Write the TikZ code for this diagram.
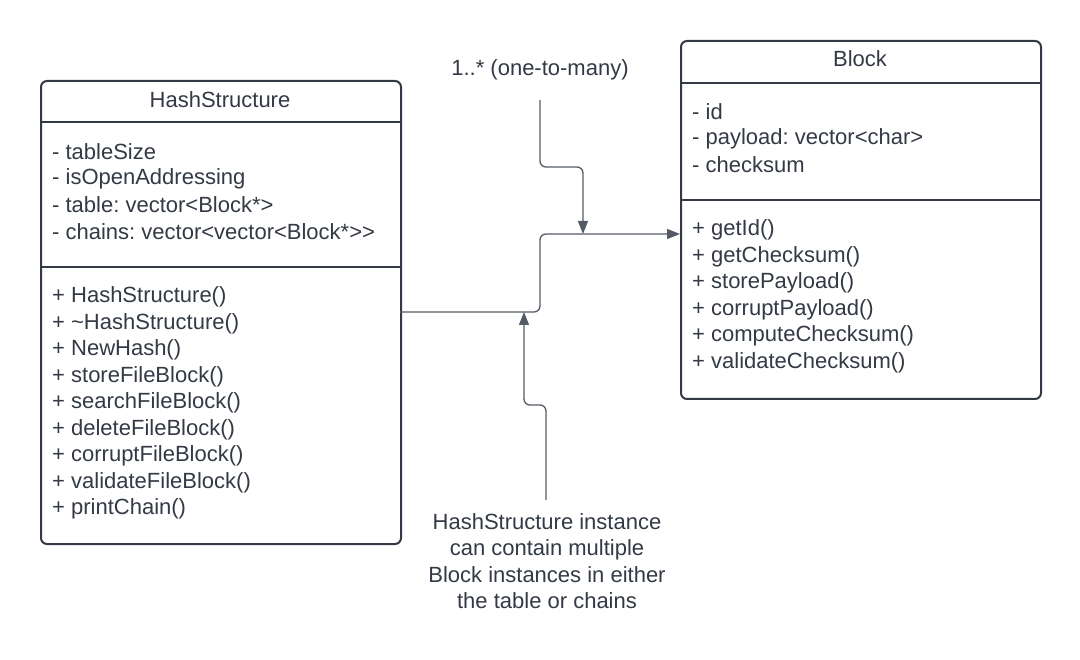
\documentclass[tikz,border=0pt]{standalone}
\usepackage{fontspec}
\setmainfont[Ligatures=NoCommon]{Liberation Sans}
\frenchspacing
\usetikzlibrary{arrows.meta}
\definecolor{ink}{HTML}{333A45}
\definecolor{wire}{HTML}{555B66}
\begin{document}
\begin{tikzpicture}[x=1pt,y=-1pt,
  classbox/.style={draw=ink,line width=2pt,rounded corners=6pt,anchor=north west,inner sep=0pt},
  divider/.style={draw=ink,line width=2pt},
  member/.style={anchor=west,inner sep=0pt,text=ink,font=\fontsize{22}{26}\selectfont},
  title/.style={inner sep=0pt,text=ink,font=\fontsize{22}{26}\selectfont},
  wireline/.style={draw=wire,line width=1.3pt,rounded corners=6pt},
  tip/.style={-{Triangle[length=13pt,width=10pt]}}
]
\useasboundingbox[fill=white] (0,0) rectangle (1080,660);

% HashStructure class
\node[classbox,minimum width=360pt,minimum height=463pt] (hs) at (40,80) {};
\draw[divider] (40,122) -- (400,122);
\draw[divider] (40,267) -- (400,267);
\node[title] (hst) at (220,100) {HashStructure};
\foreach \t [count=\i from 0] in {- tableSize,- isOpenAddressing,- table: vector<Block*>,- chains: vector<vector<Block*>{}>}
  \node[member] (hsa\i) at (52,{152+26.5*\i}) {\t};
\foreach \t [count=\i from 0] in {+ HashStructure(),+ \textasciitilde HashStructure(),+ NewHash(),+ storeFileBlock(),+ searchFileBlock(),+ deleteFileBlock(),+ corruptFileBlock(),+ validateFileBlock(),+ printChain()}
  \node[member] (hsm\i) at (52,{297+26.5*\i}) {\t};

% Block class
\node[classbox,minimum width=360pt,minimum height=358pt] (blk) at (680,40) {};
\draw[divider] (680,83) -- (1040,83);
\draw[divider] (680,200) -- (1040,200);
\node[title] (blkt) at (860,59) {Block};
\foreach \t [count=\i from 0] in {- id,- payload: vector<char>,- checksum}
  \node[member] (ba\i) at (692,{112+26.5*\i}) {\t};
\foreach \t [count=\i from 0] in {+ getId(),+ getChecksum(),+ storePayload(),+ corruptPayload(),+ computeChecksum(),+ validateChecksum()}
  \node[member] (bm\i) at (692,{230+26.5*\i}) {\t};

% association
\coordinate (a0) at (400,312);
\coordinate (a3) at (680,234);
\draw[wireline,tip] (a0) -- (540,312) -- (540,234) -- (a3);

% multiplicity label
\node[title] (mult) at (540,70) {1..* (one-to-many)};
\coordinate (m0) at (540,100);
\coordinate (m1) at (583,234);
\draw[wireline,tip] (m0) -- (540,167) -- (583,167) -- (m1);

% note
\node[title,align=center,font=\fontsize{22}{26.5}\selectfont] (note) at (547,561)
  {HashStructure instance\\can contain multiple\\Block instances in either\\the table or chains};
\coordinate (n0) at (546,500);
\coordinate (n1) at (524,312);
\draw[wireline,tip] (n0) -- (546,405) -- (524,405) -- (n1);
\end{tikzpicture}
\end{document}
